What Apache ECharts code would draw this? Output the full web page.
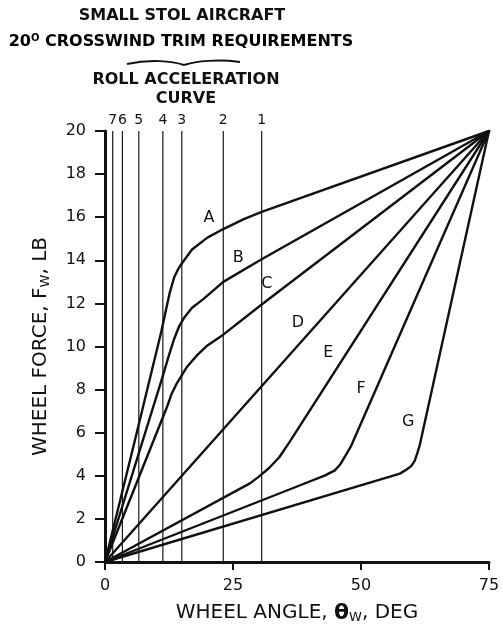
<!DOCTYPE html>
<html>
<head>
<meta charset="utf-8">
<script src="https://cdn.jsdelivr.net/npm/echarts@6/dist/echarts.min.js"></script>
<style>
html,body{margin:0;padding:0;background:#fff;}
#chart{width:503px;height:625px;}
</style>
</head>
<body>
<div id="chart"></div>
<script>
// ---- data ----
const xTicks = [0, 25, 50, 75];
const yTicks = [0, 2, 4, 6, 8, 10, 12, 14, 16, 18, 20];

const rollNames = ['1', '2', '3', '4', '5', '6', '7'];
const rollAngles = [30.6, 23.1, 15.0, 11.3, 6.6, 3.4, 1.5];

const curveA = [[0,0],[6,5.8],[11,10.7],[12,11.8],[12.7,12.55],[13.5,13.2],[14.3,13.6],[15,13.85],[17,14.5],[20,15.05],[23.1,15.45],[27,15.9],[30.6,16.25],[75,20]];
const curveB = [[0,0],[11,8.4],[12.5,9.6],[13.5,10.35],[14.5,10.95],[15.5,11.35],[17,11.8],[19.2,12.2],[23.1,13.0],[30.6,14.05],[75,20]];
const curveC = [[0,0],[12.2,7.25],[13,7.8],[14,8.28],[16,9.05],[18,9.6],[20,10.05],[23.1,10.55],[30.6,11.95],[75,20]];
const curveD = [[0,0],[75,20]];
const curveE = [[0,0],[28.3,3.65],[30,3.95],[32,4.35],[34,4.85],[36,5.55],[75,20]];
const curveF = [[0,0],[38,3.55],[43,4.02],[44.9,4.25],[46,4.55],[47,4.95],[48,5.35],[75,20]];
const curveG = [[0,0],[57.6,4.1],[58.9,4.29],[59.8,4.45],[60.5,4.7],[61,5.05],[61.5,5.45],[75,20]];

const curveNames = ['A', 'B', 'C', 'D', 'E', 'F', 'G'];
const curveLabelX = [20.3, 26.0, 31.6, 37.7, 43.6, 50.0, 59.2];
const curveLabelY = [15.95, 14.1, 12.9, 11.1, 9.7, 8.05, 6.5];

// ---- chart ----
const chart = echarts.init(document.getElementById('chart'), null, {renderer: 'canvas'});
const FONT = 'DejaVu Sans';
const INK = '#111';
const curves = [curveA, curveB, curveC, curveD, curveE, curveF, curveG];

const series = [];
rollAngles.forEach((x, i) => {
  series.push({
    type: 'line', name: 'roll' + rollNames[i], data: [[x, 0], [x, 20]],
    symbol: 'none', silent: true,
    lineStyle: {color: '#1a1a1a', width: 1.2}
  });
});
curves.forEach((c, i) => {
  series.push({
    type: 'line', name: curveNames[i], data: c, symbol: 'none', smooth: false,
    lineStyle: {color: INK, width: 2.4, cap: 'round', join: 'round'}
  });
});
series.push({
  type: 'scatter', name: 'curveLabels', symbolSize: 1, silent: true,
  itemStyle: {opacity: 0},
  data: curveNames.map((n, i) => ({value: [curveLabelX[i], curveLabelY[i]], name: n})),
  label: {show: true, formatter: p => p.name, position: 'inside', color: INK, opacity: 1,
          fontFamily: FONT, fontSize: 16}
});
series.push({
  type: 'scatter', name: 'rollLabels', symbolSize: 1, silent: true,
  itemStyle: {opacity: 0},
  data: rollNames.map((n, i) => ({value: [rollAngles[i], 20], name: n})),
  label: {show: true, formatter: p => p.name, position: 'top', distance: 3, color: INK, opacity: 1,
          fontFamily: FONT, fontSize: 14}
});

chart.setOption({
  animation: false,
  backgroundColor: '#fff',
  grid: {left: 105, right: 14, top: 131, bottom: 63, containLabel: false, outerBoundsMode: 'none'},
  xAxis: {
    type: 'value', min: 0, max: 75, interval: 25,
    name: 'WHEEL ANGLE, {b|θ}{s|W}, DEG', nameLocation: 'middle', nameGap: 40,
    nameTextStyle: {color: INK, fontFamily: FONT, fontSize: 20,
      rich: {b: {fontSize: 22, fontWeight: 'bold', color: INK, fontFamily: FONT},
             s: {fontSize: 13, color: INK, fontFamily: FONT, padding: [9, 0, 0, 0]}}},
    axisLine: {lineStyle: {color: INK, width: 3}},
    axisTick: {length: 8, lineStyle: {color: INK, width: 2}},
    axisLabel: {color: INK, fontFamily: FONT, fontSize: 16, margin: 16},
    splitLine: {show: false}
  },
  yAxis: {
    type: 'value', min: 0, max: 20, interval: 2,
    name: 'WHEEL FORCE, F{s|W}, LB', nameLocation: 'middle', nameGap: 53,
    nameTextStyle: {color: INK, fontFamily: FONT, fontSize: 20,
      rich: {s: {fontSize: 13, color: INK, fontFamily: FONT, padding: [9, 0, 0, 0]}}},
    axisLine: {show: true, lineStyle: {color: INK, width: 3}},
    axisTick: {show: true, length: 10, lineStyle: {color: INK, width: 2}},
    axisLabel: {color: INK, fontFamily: FONT, fontSize: 16, margin: 19},
    splitLine: {show: false}
  },
  graphic: [
    {type: 'text', style: {text: 'SMALL STOL AIRCRAFT', x: 182, y: 16, align: 'center', verticalAlign: 'middle',
      font: 'bold 16px "DejaVu Sans"', fill: INK}},
    {type: 'text', style: {text: '{n|20}{s|O}{n| CROSSWIND TRIM REQUIREMENTS}', x: 181, y: 42, align: 'center', verticalAlign: 'middle',
      rich: {n: {fontSize: 16, fontWeight: 'bold', fontFamily: FONT, color: INK},
             s: {fontSize: 10, fontWeight: 'bold', fontFamily: FONT, color: INK, padding: [0, 0, 8, 0]}}}},
    {type: 'bezierCurve', shape: {x1: 127, y1: 64, cpx1: 150, cpy1: 59, cpx2: 172, cpy2: 61, x2: 184, y2: 65},
      style: {stroke: INK, lineWidth: 2, fill: null}},
    {type: 'bezierCurve', shape: {x1: 184, y1: 65, cpx1: 196, cpy1: 61, cpx2: 218, cpy2: 59, x2: 240, y2: 62},
      style: {stroke: INK, lineWidth: 2, fill: null}},
    {type: 'text', style: {text: 'ROLL ACCELERATION', x: 186, y: 80, align: 'center', verticalAlign: 'middle',
      font: 'bold 16px "DejaVu Sans"', fill: INK}},
    {type: 'text', style: {text: 'CURVE', x: 186, y: 99, align: 'center', verticalAlign: 'middle',
      font: 'bold 16px "DejaVu Sans"', fill: INK}}
  ],
  series: series
});
</script>
</body>
</html>
